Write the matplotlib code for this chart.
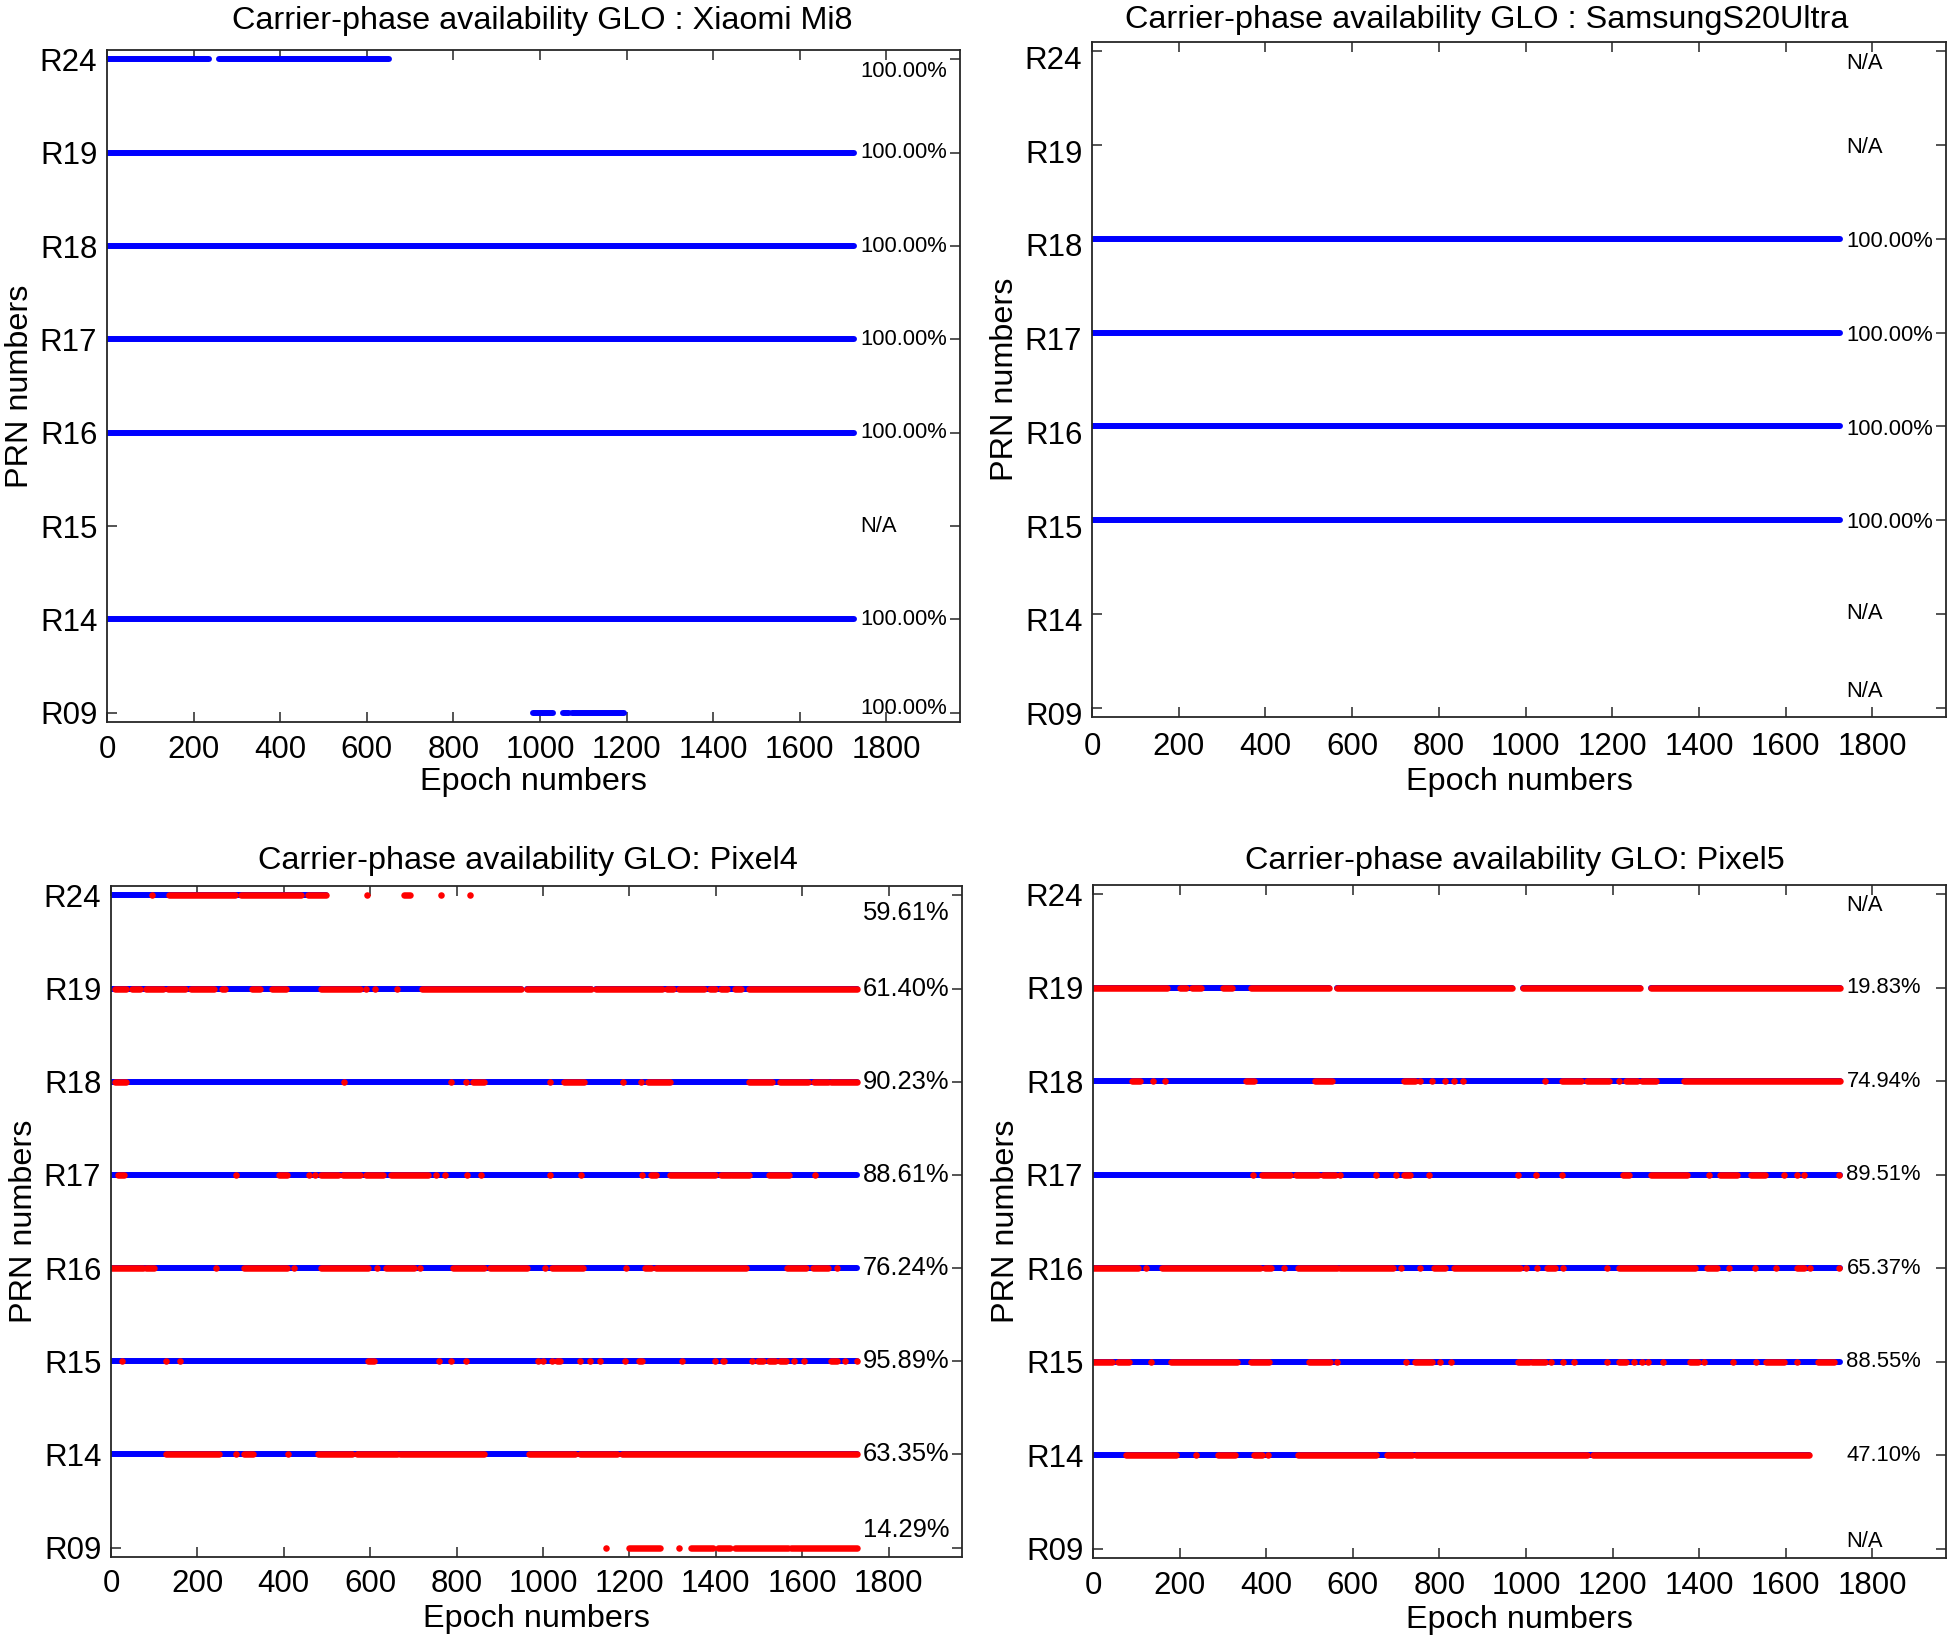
import matplotlib
matplotlib.use("Agg")
import matplotlib.pyplot as plt
from matplotlib import transforms

plt.rcParams['font.family'] = ['Liberation Sans', 'DejaVu Sans']

prns = ['R09', 'R14', 'R15', 'R16', 'R17', 'R18', 'R19', 'R24']

# tracked epochs (blue) and flagged epochs (red), as (first, last) epoch runs, one list per PRN
mi8_track = [[(984, 1030), (1052, 1066), (1074, 1194)], [(0, 1726)], [], [(0, 1726)],
             [(0, 1726)], [(0, 1726)], [(0, 1726)], [(0, 236), (258, 651)]]
mi8_red = [[], [], [], [], [], [], [], []]
mi8_pct = ['100.00%', '100.00%', 'N/A', '100.00%', '100.00%', '100.00%', '100.00%', '100.00%']

s20_track = [[], [], [(0, 1726)], [(0, 1726)], [(0, 1726)], [(0, 1726)], [], []]
s20_red = [[], [], [], [], [], [], [], []]
s20_pct = ['N/A', 'N/A', '100.00%', '100.00%', '100.00%', '100.00%', 'N/A', 'N/A']

p4_track = [[], [(0, 1726)], [(0, 1726)], [(0, 1726)], [(0, 1726)], [(0, 1726)],
            [(0, 949), (962, 1112), (1122, 1726)], [(0, 497)]]
p4_red = [
    [(1147, 1147), (1200, 1270), (1316, 1316), (1342, 1393), (1405, 1433), (1444, 1567), (1575, 1726)],
    [(127, 250), (290, 290), (309, 329), (410, 410), (479, 557), (570, 662), (668, 864),
     (968, 1073), (1086, 1171), (1184, 1726)],
    [(26, 26), (127, 127), (159, 159), (596, 609), (760, 760), (788, 788), (822, 822), (988, 988),
     (1001, 1001), (1020, 1020), (1033, 1040), (1086, 1086), (1109, 1109), (1131, 1131), (1190, 1190),
     (1223, 1229), (1321, 1321), (1399, 1399), (1416, 1419), (1484, 1484), (1497, 1510), (1523, 1536),
     (1549, 1562), (1582, 1582), (1605, 1605), (1667, 1680), (1699, 1699), (1726, 1726)],
    [(0, 75), (81, 100), (244, 244), (309, 407), (423, 423), (485, 596), (616, 616), (636, 701),
     (716, 716), (792, 864), (877, 962), (1004, 1004), (1021, 1092), (1193, 1193), (1236, 1249),
     (1262, 1347), (1353, 1471), (1566, 1608), (1624, 1660), (1680, 1680)],
    [(16, 29), (290, 290), (388, 407), (459, 459), (472, 472), (485, 525), (538, 577), (590, 629),
     (649, 733), (753, 753), (773, 773), (825, 825), (857, 857), (1017, 1017), (1088, 1088),
     (1229, 1229), (1249, 1262), (1295, 1399), (1412, 1432), (1438, 1477), (1523, 1569), (1630, 1630)],
    [(9, 35), (540, 540), (788, 788), (822, 822), (838, 864), (1017, 1017), (1049, 1096), (1186, 1186),
     (1227, 1227), (1243, 1295), (1477, 1530), (1549, 1614), (1627, 1660), (1667, 1726)],
    [(9, 35), (48, 68), (81, 120), (133, 172), (185, 238), (257, 264), (326, 345), (372, 405),
     (485, 577), (590, 590), (612, 612), (662, 662), (720, 949), (962, 1112), (1122, 1275),
     (1288, 1301), (1314, 1373), (1386, 1399), (1412, 1425), (1445, 1458), (1477, 1726)],
    [(95, 95), (134, 287), (301, 440), (455, 497), (592, 592), (679, 693), (764, 764), (832, 832)],
]
p4_pct = ['14.29%', '63.35%', '95.89%', '76.24%', '88.61%', '90.23%', '61.40%', '59.61%']

p5_track = [[], [(0, 1654)], [(0, 1726)], [(0, 1726)], [(0, 1726)], [(0, 1726)],
            [(0, 545), (564, 968), (994, 1263), (1288, 1726)], []]
p5_red = [
    [],
    [(77, 192), (237, 237), (288, 327), (372, 391), (404, 404), (474, 654), (680, 737),
     (746, 1141), (1154, 1654)],
    [(0, 45), (58, 83), (135, 135), (179, 333), (365, 407), (500, 548), (564, 564), (724, 724),
     (744, 782), (801, 801), (827, 827), (981, 1006), (1015, 1045), (1058, 1058), (1086, 1086),
     (1111, 1111), (1186, 1186), (1215, 1231), (1250, 1250), (1269, 1269), (1282, 1282), (1317, 1317),
     (1378, 1397), (1410, 1410), (1477, 1477), (1532, 1532), (1554, 1596), (1625, 1625), (1674, 1712)],
    [(0, 103), (122, 122), (160, 385), (397, 410), (442, 442), (474, 564), (570, 692), (711, 711),
     (756, 756), (788, 814), (833, 987), (1000, 1000), (1026, 1026), (1048, 1066), (1086, 1086),
     (1186, 1186), (1215, 1276), (1282, 1391), (1417, 1442), (1468, 1468), (1529, 1529), (1577, 1577),
     (1625, 1641), (1656, 1656), (1724, 1724)],
    [(369, 369), (391, 455), (468, 519), (532, 558), (570, 570), (654, 654), (699, 699), (718, 731),
     (776, 776), (981, 981), (1022, 1022), (1083, 1083), (1224, 1237), (1288, 1372), (1423, 1423),
     (1449, 1487), (1519, 1551), (1596, 1596), (1625, 1625), (1641, 1641), (1724, 1724)],
    [(90, 109), (138, 138), (167, 167), (353, 372), (513, 551), (718, 744), (756, 756), (782, 782),
     (814, 814), (833, 833), (855, 855), (1045, 1045), (1083, 1128), (1141, 1192), (1215, 1215),
     (1231, 1256), (1269, 1301), (1365, 1726)],
    [(0, 170), (200, 215), (229, 250), (300, 321), (364, 545), (564, 968), (994, 1263), (1288, 1726)],
    [],
]
p5_pct = ['N/A', '47.10%', '88.55%', '65.37%', '89.51%', '74.94%', '19.83%', 'N/A']

titles = ['Carrier-phase availability GLO : Xiaomi Mi8',
          'Carrier-phase availability GLO : SamsungS20Ultra',
          'Carrier-phase availability GLO: Pixel4',
          'Carrier-phase availability GLO: Pixel5']

W, H = 1948, 1641
fig = plt.figure(figsize=(W / 100, H / 100), dpi=100)


def box(l, r, t, b):
    return [l / W, 1 - b / H, (r - l) / W, (b - t) / H]


# left, right, top, bottom in pixels
boxes = [box(107, 960, 50, 722), box(1092, 1946, 42, 717),
         box(111, 962, 886, 1557), box(1093, 1946, 885, 1558)]
title_x = [0.51, 0.462, 0.49, 0.494]
title_gap = [29, 22, 25, 24]
xlab_y = [-0.09, -0.097, -0.092, -0.092]
xpad = [9, 11, 9, 9]
ytick_shift = [0, 6, 0, 0]  # pixels down
label_dy = [[0.05, 0, 0, 0, 0, 0, 0, -0.13],
            [0.167, 0, -0.03, -0.03, -0.03, -0.03, -0.03, -0.128],
            [0.19, 0, 0, 0, 0, 0, 0, -0.19],
            [0.08, 0, 0, 0, 0, 0, 0, -0.12]]
pct_size = [15.8, 15.8, 18.4, 15.8]

panels = [(mi8_track, mi8_red, mi8_pct), (s20_track, s20_red, s20_pct),
          (p4_track, p4_red, p4_pct), (p5_track, p5_red, p5_pct)]

for k, (track, red, pct) in enumerate(panels):
    ax = fig.add_axes(boxes[k])
    for i in range(len(prns)):
        y = i + 1
        for runs, col, lw in ((track[i], 'blue', 4.3), (red[i], 'red', 4.7)):
            for s, e in runs:
                if s == e:
                    ax.plot([s], [y], 'o', color=col, ms=lw, mec='none')
                else:
                    ax.plot([s, e], [y, y], color=col, lw=lw, solid_capstyle='round')
        ax.text(1740, y + label_dy[k][i], pct[i], fontsize=pct_size[k], ha='left', va='center')

    ax.set_xlim(0, 1970)
    ax.set_ylim(0.9, 8.1)
    ax.set_xticks(range(0, 1801, 200))
    ax.set_yticks(range(1, 9))
    ax.set_yticklabels(prns)
    ax.tick_params(direction='in', top=True, right=True, length=7, width=1.1,
                   labelsize=22.5, color='#262626')
    ax.tick_params(axis='x', pad=xpad[k])
    ax.tick_params(axis='y', pad=7)
    if ytick_shift[k]:
        off = transforms.ScaledTranslation(0, -ytick_shift[k] / 100, fig.dpi_scale_trans)
        for lab in ax.get_yticklabels():
            lab.set_transform(lab.get_transform() + off)
    for sp in ax.spines.values():
        sp.set_linewidth(1.3)
        sp.set_color('#262626')

    h = boxes[k][3] * H
    ax.text(title_x[k], 1 + title_gap[k] / h, titles[k], transform=ax.transAxes,
            ha='center', va='center', fontsize=23.3)
    ax.set_xlabel('Epoch numbers', fontsize=23.3)
    ax.set_ylabel('PRN numbers', fontsize=23.3)
    ax.xaxis.label.set_va('center')
    ax.yaxis.label.set_va('center')
    ax.xaxis.set_label_coords(0.5, xlab_y[k])
    ax.yaxis.set_label_coords(-0.102, 0.5)

fig.savefig('out.png', dpi=100)
